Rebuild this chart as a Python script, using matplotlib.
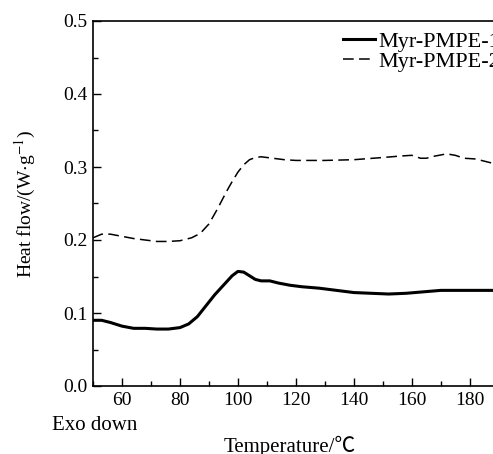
import matplotlib.pyplot as plt
from matplotlib.ticker import MultipleLocator

# DSC curves
temp_1 = [50, 53, 56, 60, 64, 68, 72, 76, 80, 83, 86, 89, 92, 95, 98, 100, 102,
          104, 106, 108, 111, 114, 118, 122, 128, 134, 140, 146, 152, 158, 164,
          170, 176, 182, 188]
flow_1 = [0.090, 0.090, 0.087, 0.082, 0.079, 0.079, 0.078, 0.078, 0.080, 0.085,
          0.095, 0.110, 0.125, 0.138, 0.151, 0.157, 0.156, 0.151, 0.146, 0.144,
          0.144, 0.141, 0.138, 0.136, 0.134, 0.131, 0.128, 0.127, 0.126, 0.127,
          0.129, 0.131, 0.131, 0.131, 0.131]

temp_2 = [50, 53, 56, 60, 64, 68, 72, 76, 80, 84, 87, 90, 93, 96, 98, 100, 102,
          104, 106, 108, 112, 116, 120, 130, 140, 150, 156, 160, 163, 165, 168,
          172, 175, 178, 182, 185, 188]
flow_2 = [0.203, 0.208, 0.208, 0.205, 0.202, 0.200, 0.198, 0.198, 0.199, 0.203,
          0.209, 0.222, 0.243, 0.266, 0.280, 0.293, 0.303, 0.310, 0.313, 0.314,
          0.312, 0.310, 0.309, 0.309, 0.310, 0.313, 0.315, 0.316, 0.312, 0.312,
          0.315, 0.318, 0.316, 0.312, 0.311, 0.308, 0.305]

labels = ['Myr-PMPE-1', 'Myr-PMPE-2']

plt.rcParams['font.family'] = ['Liberation Serif', 'Noto Sans CJK SC']
plt.rcParams['mathtext.fontset'] = 'stix'

W, H = 493, 454
fig = plt.figure(figsize=(W / 100, H / 100), dpi=100)
ax = fig.add_axes([93 / W, 68 / H, 400 / W, 365 / H])

ax.plot(temp_1, flow_1, color='black', lw=2.2, label=labels[0])
ax.plot(temp_2, flow_2, color='black', lw=1.1, dashes=(7, 3.5), label=labels[1])

ax.set_xlim(50, 188)
ax.set_ylim(0.0, 0.5)
ax.xaxis.set_major_locator(MultipleLocator(20))
ax.xaxis.set_minor_locator(MultipleLocator(10))
ax.yaxis.set_major_locator(MultipleLocator(0.1))
ax.yaxis.set_minor_locator(MultipleLocator(0.05))
ax.yaxis.set_major_formatter(plt.FormatStrFormatter('%.1f'))
ax.tick_params(which='both', direction='in', labelsize=14, width=1.0,
               top=False, right=False)
ax.tick_params(which='major', length=6, pad=4)
ax.tick_params(which='minor', length=3.5)
ax.spines['right'].set_visible(False)
for s in ['left', 'bottom', 'top']:
    ax.spines[s].set_linewidth(1.2)

ax.set_ylabel(r'Heat flow/(W$\cdot$g$^{-1}$)', fontsize=14)
ax.yaxis.set_label_coords(-0.138, 0.5)
ax.set_xlabel('Temperature/℃', fontsize=15)
ax.xaxis.set_label_coords((290 - 93) / 400, -0.137)
fig.text(52 / W, 1 - 425 / H, 'Exo down', fontsize=15, va='center', ha='left')

fig.legend(loc='upper left', bbox_to_anchor=(343 / W, 1 - 31 / H), frameon=False,
           fontsize=16, handlelength=1.45, handletextpad=0.15,
           labelspacing=-0.02, borderpad=0, borderaxespad=0)

fig.savefig('out.png', dpi=100)
